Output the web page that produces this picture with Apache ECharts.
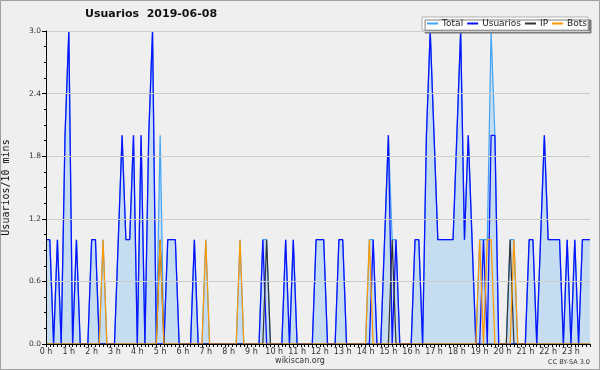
<!DOCTYPE html>
<html>
<head>
<meta charset="utf-8">
<script src="https://cdn.jsdelivr.net/npm/echarts@6/dist/echarts.min.js"></script>
<style>
html,body{margin:0;padding:0;background:#efefef;}
#c{width:600px;height:370px;}
</style>
</head>
<body>
<div id="c"></div>
<script>
// 10-minute slots: 144 per day
const hourLabels = ["0 h","1 h","2 h","3 h","4 h","5 h","6 h","7 h","8 h","9 h","10 h","11 h","12 h","13 h","14 h","15 h","16 h","17 h","18 h","19 h","20 h","21 h","22 h","23 h"];
const yTicks = [0, 0.6, 1.2, 1.8, 2.4, 3.0];

const usuarios = [
  1,1,0,1,0,2,3,0,1,0,0,0,   // 0h-2h
  1,1,0,0,0,0,0,1,2,1,1,2,   // 2h-4h
  0,2,0,2,3,0,0,0,1,1,1,0,   // 4h-6h
  0,0,0,1,0,0,0,0,0,0,0,0,   // 6h-8h
  0,0,0,0,0,0,0,0,0,1,0,0,   // 8h-10h
  0,0,0,1,0,1,0,0,0,0,0,1,   // 10h-12h
  1,1,0,0,0,1,1,0,0,0,0,0,   // 12h-14h
  0,0,1,0,0,1,2,0,1,0,0,0,   // 14h-16h
  0,1,1,0,2,3,2,1,1,1,1,1,   // 16h-18h
  2,3,1,2,1,0,0,1,0,2,2,0,   // 18h-20h
  0,0,0,0,0,0,0,1,1,0,1,2,   // 20h-22h
  1,1,1,1,0,1,0,1,0,1,1,1    // 22h-24h
];
const ip = [
  0,0,0,0,0,0,0,0,0,0,0,0,
  0,0,0,0,0,0,0,0,0,0,0,0,
  0,0,0,0,0,0,1,0,0,0,0,0,
  0,0,0,0,0,0,0,0,0,0,0,0,
  0,0,0,0,0,0,0,0,0,0,1,0,
  0,0,0,0,0,0,0,0,0,0,0,0,
  0,0,0,0,0,0,0,0,0,0,0,0,
  0,0,0,0,0,0,0,1,0,0,0,0,
  0,0,0,0,0,0,0,0,0,0,0,0,
  0,0,0,0,0,0,0,0,0,0,0,0,
  0,0,1,0,0,0,0,0,0,0,0,0,
  0,0,0,0,0,0,0,0,0,0,0,0
];
const bots = [
  0,0,0,0,0,0,0,0,0,0,0,0,
  0,0,0,1,0,0,0,0,0,0,0,0,
  0,0,0,0,0,0,1,0,0,0,0,0,
  0,0,0,0,0,0,1,0,0,0,0,0,
  0,0,0,1,0,0,0,0,0,0,0,0,
  0,0,0,0,0,0,0,0,0,0,0,0,
  0,0,0,0,0,0,0,0,0,0,0,0,
  0,1,0,0,0,0,0,0,0,0,0,0,
  0,0,0,0,0,0,0,0,0,0,0,0,
  0,0,0,0,0,0,1,0,1,1,0,0,
  0,0,0,1,0,0,0,0,0,0,0,0,
  0,0,0,0,0,0,0,0,0,0,0,0
];
const total = usuarios.map((v, i) => v + ip[i] + bots[i]);

const slots = usuarios.map((_, i) => i);

const COLORS = {Total: '#3fa4f5', Usuarios: '#0a14ff', IP: '#333333', Bots: '#ff9900'};

const chart = echarts.init(document.getElementById('c'), null, {renderer: 'canvas'});
const FONT = 'DejaVu Sans';
chart.setOption({
  backgroundColor: '#efefef',
  animation: false,
  color: [COLORS.Total, COLORS.Usuarios, COLORS.IP, COLORS.Bots],
  title: {
    text: 'Usuarios  2019-06-08',
    left: 85, top: 9, padding: 0,
    textStyle: {fontFamily: FONT, fontSize: 11, fontWeight: 'bold', color: '#111'}
  },
  legend: {
    right: 12, top: 17,
    itemWidth: 11, itemHeight: 2, itemGap: 3,
    padding: [2, 1, 2, 4],
    backgroundColor: '#ffffff',
    borderColor: '#b0b0b0', borderWidth: 1,
    shadowColor: '#7a7a7a', shadowOffsetX: 3, shadowOffsetY: 3, shadowBlur: 0,
    textStyle: {fontFamily: FONT, fontSize: 9, color: '#222', padding: [0, 0, 0, -1]},
    data: ['Total', 'Usuarios', 'IP', 'Bots']
  },
  grid: {left: 46, right: 10, top: 31, bottom: 26, containLabel: false, outerBoundsMode: 'none'},
  xAxis: {
    type: 'category', data: slots, boundaryGap: false, z: 10,
    axisLine: {lineStyle: {color: '#000', width: 1}},
    axisTick: {show: true, interval: 0, length: 3, lineStyle: {color: '#000'}},
    axisLabel: {
      interval: (i) => i % 6 === 0,
      formatter: (v, i) => hourLabels[Math.floor(i / 6)],
      fontFamily: FONT, fontSize: 8, color: '#333', margin: 4
    },
    splitLine: {show: false}
  },
  yAxis: {
    type: 'value', min: 0, max: 3, interval: 0.6, z: 10,
    name: 'Usuarios/10 mins', nameLocation: 'middle', nameGap: 35, nameRotate: 90,
    nameTextStyle: {fontFamily: 'DejaVu Sans Mono', fontSize: 10, color: '#111'},
    axisLine: {show: true, lineStyle: {color: '#000'}},
    axisTick: {show: true, length: 4, lineStyle: {color: '#000'}},
    minorTick: {show: true, splitNumber: 4, length: 2, lineStyle: {color: '#000'}},
    axisLabel: {
      formatter: (v) => v.toFixed(1),
      fontFamily: FONT, fontSize: 7.5, color: '#333', margin: 5
    },
    splitLine: {show: true, lineStyle: {color: '#cccccc', width: 1}}
  },
  series: [
    {
      name: 'Total', type: 'line', data: total, symbol: 'none',
      lineStyle: {color: COLORS.Total, width: 1.2},
      areaStyle: {color: '#c6dcf0', opacity: 1},
      z: 2
    },
    {
      name: 'Usuarios', type: 'line', data: usuarios, symbol: 'none',
      lineStyle: {color: COLORS.Usuarios, width: 1.3}, z: 3
    },
    {
      name: 'IP', type: 'line', data: ip, symbol: 'none',
      lineStyle: {color: COLORS.IP, width: 1.2}, z: 4
    },
    {
      name: 'Bots', type: 'line', data: bots, symbol: 'none',
      lineStyle: {color: COLORS.Bots, width: 1.2}, z: 5
    }
  ],
  graphic: [
    {type: 'text', left: 'center', top: 357, style: {text: 'wikiscan.org', fontFamily: FONT, fontSize: 8, fill: '#333'}},
    {type: 'text', right: 10, top: 359, style: {text: 'CC BY-SA 3.0', fontFamily: FONT, fontSize: 6.5, fill: '#333'}},
    {type: 'rect', shape: {x: 0.5, y: 0.5, width: 599, height: 369}, style: {fill: null, stroke: '#a0a0a0', lineWidth: 1}, z: 100}
  ]
});
</script>
</body>
</html>
